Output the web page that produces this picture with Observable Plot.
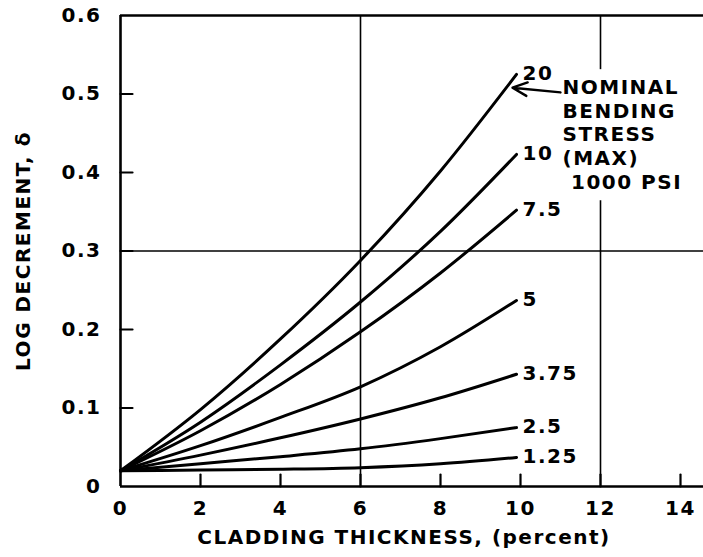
<!DOCTYPE html>
<html><head><meta charset="utf-8">
<script src="https://cdn.jsdelivr.net/npm/d3@7"></script>
<script src="https://cdn.jsdelivr.net/npm/@observablehq/plot@0.6"></script>
<style>
html,body{margin:0;padding:0;background:#fff;}
#chart svg{display:block;}
</style></head><body><div id="chart"></div>
<script>
// Nominal bending stress (max), 1000 psi
const stressLevels = ["20", "10", "7.5", "5", "3.75", "2.5", "1.25"];
// Cladding thickness (percent) sample points
const thickness = [0, 2, 4, 6, 8, 9.9];
// Log decrement values for each stress level
const s20   = [0.02, 0.098, 0.188, 0.288, 0.402, 0.525];
const s10   = [0.02, 0.082, 0.155, 0.235, 0.325, 0.423];
const s7_5  = [0.02, 0.071, 0.130, 0.197, 0.272, 0.352];
const s5    = [0.02, 0.052, 0.088, 0.127, 0.178, 0.237];
const s3_75 = [0.02, 0.040, 0.062, 0.086, 0.113, 0.143];
const s2_5  = [0.02, 0.029, 0.038, 0.048, 0.061, 0.075];
const s1_25 = [0.02, 0.021, 0.022, 0.024, 0.029, 0.037];
const seriesValues = [s20, s10, s7_5, s5, s3_75, s2_5, s1_25];

const xTicks = [0, 2, 4, 6, 8, 10, 12, 14];
const yTicks = [0, 0.1, 0.2, 0.3, 0.4, 0.5, 0.6];
const gridX = [6];
const gridY = [0.3];
const legendLines = ["NOMINAL", "BENDING", "STRESS", "(MAX)", "\u00a01000 PSI"];
const legendAnchor = {x: 11.05, y: 0.521};       // top-left of note (data units)
const arrowNote = {x1: 11.0, y1: 0.502, x2: 9.8, y2: 0.508};

const rows = [];
stressLevels.forEach((s, i) => thickness.forEach((t, j) => rows.push({stress: s, t, v: seriesValues[i][j]})));
const ends = stressLevels.map((s, i) => ({stress: s, t: thickness[thickness.length - 1], v: seriesValues[i][seriesValues[i].length - 1]}));

// gridline at 12 is interrupted by the note
const grid12 = [{x: 12, y1: 0, y2: legendAnchor.y - 0.157}, {x: 12, y1: legendAnchor.y + 0.01, y2: 0.6}];

const tickShape = {draw(context, l) { context.moveTo(0, 0); context.lineTo(0, -l); }};
const fmtY = d => d === 0 ? "0" : d.toFixed(1);
const FS = 20;

const chart = Plot.plot({
  width: 703,
  height: 557,
  marginLeft: 120,
  marginRight: 0,
  marginTop: 15,
  marginBottom: 71,
  style: "font-family:'DejaVu Sans',sans-serif;background:#fff;color:#000;letter-spacing:1.5px;",
  x: {domain: [0, 14.575], axis: null},
  y: {domain: [0, 0.6], axis: null},
  marks: [
    // frame
    Plot.ruleX([0], {strokeWidth: 2.6}),
    Plot.ruleY([0], {strokeWidth: 2.6}),
    Plot.ruleY([0.6], {strokeWidth: 2.6}),
    // grid
    Plot.ruleX(gridX, {strokeWidth: 1.6}),
    Plot.ruleX(grid12, {x: "x", y1: "y1", y2: "y2", strokeWidth: 1.6}),
    Plot.ruleY(gridY, {strokeWidth: 1.6}),
    // inward ticks
    Plot.vector(xTicks.filter(d => d > 0), {x: d => d, y: 0, length: 12, rotate: 0, anchor: "start", shape: tickShape, stroke: "black", strokeWidth: 2.2}),
    Plot.vector(yTicks.filter(d => d > 0 && d < 0.6), {y: d => d, x: 0, length: 12, rotate: 90, anchor: "start", shape: tickShape, stroke: "black", strokeWidth: 2.2}),
    // tick labels
    Plot.text(xTicks, {x: d => d, frameAnchor: "bottom", dy: 22, lineAnchor: "middle", textAnchor: "middle", text: d => String(d), fontSize: FS, fontWeight: "bold"}),
    Plot.text(yTicks, {y: d => d, frameAnchor: "left", dx: -19, textAnchor: "end", lineAnchor: "middle", text: fmtY, fontSize: FS, fontWeight: "bold"}),
    // axis titles
    Plot.text(["CLADDING THICKNESS, (percent)"], {frameAnchor: "bottom", dx: -8, dy: 51, textAnchor: "middle", lineAnchor: "middle", fontSize: FS, fontWeight: "bold"}),
    Plot.text(["LOG DECREMENT, δ"], {frameAnchor: "left", dx: -97, rotate: -90, textAnchor: "middle", lineAnchor: "middle", fontSize: FS, fontWeight: "bold"}),
    // curves
    Plot.line(rows, {x: "t", y: "v", z: "stress", curve: "monotone-x", stroke: "black", strokeWidth: 3}),
    Plot.text(ends, {x: "t", y: "v", text: "stress", dx: 6, dy: -1, textAnchor: "start", lineAnchor: "middle", fontSize: FS, fontWeight: "bold"}),
    // note
    Plot.text([legendLines.join("\n")], {x: legendAnchor.x, y: legendAnchor.y, text: d => d, textAnchor: "start", lineAnchor: "top", lineHeight: 1.18, fontSize: FS, fontWeight: "bold"}),
    Plot.arrow([arrowNote], {x1: "x1", y1: "y1", x2: "x2", y2: "y2", strokeWidth: 2.4, headLength: 11, headAngle: 50, stroke: "black"})
  ]
});
document.getElementById("chart").appendChild(chart);
</script></body></html>
